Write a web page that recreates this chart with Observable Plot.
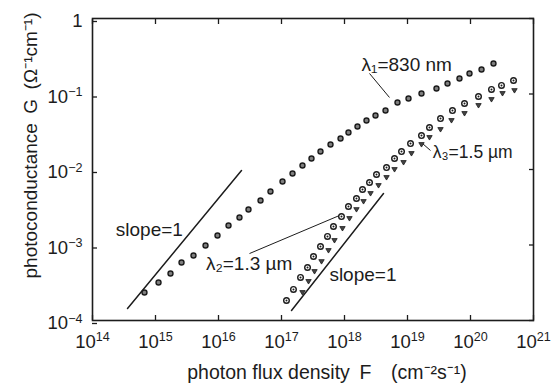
<!DOCTYPE html>
<html><head><meta charset="utf-8">
<script src="https://cdn.jsdelivr.net/npm/d3@7"></script>
<script src="https://cdn.jsdelivr.net/npm/@observablehq/plot@0.6"></script>
<style>
html,body{margin:0;padding:0;background:#fff;}
svg{display:block;}
</style></head><body><div id="chart"></div>
<script>
// exponents (log10)
const lambda1LogF = [14.825,15.048,15.238,15.413,15.603,15.794,15.984,16.159,16.333,16.476,16.667,16.825,17.016,17.175,17.333,17.476,17.619,17.778,17.937,18.063,18.206,18.349,18.492,18.651,18.841,19.016,19.222,19.460,19.635,19.825,19.984,20.175,20.365];
const lambda1LogG = [-3.629,-3.497,-3.377,-3.232,-3.139,-3.007,-2.874,-2.742,-2.636,-2.530,-2.411,-2.291,-2.159,-2.053,-1.947,-1.854,-1.762,-1.669,-1.589,-1.510,-1.430,-1.351,-1.285,-1.219,-1.113,-1.060,-0.993,-0.927,-0.861,-0.795,-0.728,-0.675,-0.596];
const lambda2LogF = [17.079,17.190,17.302,17.413,17.508,17.619,17.730,17.825,17.952,18.063,18.190,18.286,18.397,18.508,18.667,18.794,18.905,19.048,19.222,19.349,19.524,19.714,19.905,20.127,20.333,20.492,20.683];
const lambda2LogG = [-3.735,-3.589,-3.430,-3.298,-3.152,-3.020,-2.887,-2.755,-2.623,-2.490,-2.384,-2.265,-2.172,-2.066,-1.974,-1.854,-1.762,-1.656,-1.550,-1.444,-1.325,-1.219,-1.126,-1.033,-0.940,-0.887,-0.821];
const lambda3LogF = [17.333,17.429,17.524,17.635,17.746,17.841,17.968,18.079,18.190,18.302,18.413,18.540,18.667,18.794,18.937,19.063,19.222,19.349,19.524,19.698,19.905,20.127,20.333,20.508,20.698];
const lambda3LogG = [-3.629,-3.483,-3.351,-3.219,-3.073,-2.940,-2.781,-2.649,-2.530,-2.424,-2.318,-2.212,-2.106,-2.000,-1.907,-1.788,-1.669,-1.576,-1.470,-1.351,-1.258,-1.152,-1.073,-0.993,-0.954];
// slope = 1 guide lines (end points)
const slopeUpperLogF = [14.556, 16.365];
const slopeUpperLogG = [-3.841, -2.013];
const slopeLowerLogF = [17.159, 18.619];
const slopeLowerLogG = [-3.868, -2.318];
// tick exponents
const xTickExp = [14,15,16,17,18,19,20,21];
const yTickExp = [-4,-3,-2,-1,0];
// labels
const seriesLabels = ["λ₁=830 nm", "λ₂=1.3 µm", "λ₃=1.5 µm"];
const slopeLabel = "slope=1";
const xLabel = "photon flux density\u2002F\u2002\u2002(cm⁻²s⁻¹)";
const yLabel = "photoconductance\u2002G\u2002(Ω⁻¹cm⁻¹)";

const pts = (lf, lg) => lf.map((f, i) => ({F: 10 ** f, G: 10 ** lg[i]}));
const s1 = pts(lambda1LogF, lambda1LogG);
const s2 = pts(lambda2LogF, lambda2LogG);
const s3 = pts(lambda3LogF, lambda3LogG);
const slopeU = pts(slopeUpperLogF, slopeUpperLogG);
const slopeL = pts(slopeLowerLogF, slopeLowerLogG);
const xTicks = xTickExp.map(e => 10 ** e);
const yTicks = yTickExp.map(e => 10 ** e);

// annotation placement (log10 coordinates)
const labels = [
  {text: seriesLabels[0], lf: 18.27, lg: -0.61, size: 19},
  {text: seriesLabels[1], lf: 15.80, lg: -3.25, size: 19},
  {text: seriesLabels[2], lf: 19.40, lg: -1.775, size: 17.5},
  {text: slopeLabel, lf: 14.37, lg: -2.80, size: 19},
  {text: slopeLabel, lf: 17.76, lg: -3.40, size: 19}
].map(d => ({text: d.text, size: d.size, F: 10 ** d.lf, G: 10 ** d.lg}));
const leaders = [
  [18.397,-0.728,18.714,-1.046],
  [16.492,-3.113,17.921,-2.609],
  [19.238,-1.656,19.365,-1.748]
].map(a => ({F1: 10 ** a[0], G1: 10 ** a[1], F2: 10 ** a[2], G2: 10 ** a[3]}));

const triDown = {draw(ctx, size) {
  const r = Math.sqrt(size / Math.PI);
  ctx.moveTo(-r, -r * 0.7); ctx.lineTo(r, -r * 0.7); ctx.lineTo(0, r * 0.95); ctx.closePath();
}};

const ink = "#1c1c1c";
const font = "'Liberation Sans', Arial, Helvetica, sans-serif";

const chart = Plot.plot({
  width: 552, height: 385,
  marginLeft: 92, marginRight: 19, marginTop: 18, marginBottom: 65,
  style: {fontFamily: font, fontSize: "18px", color: ink, background: "#fff"},
  x: {type: "log", domain: [1e14, 1e21]},
  y: {type: "log", domain: [1e-4, 1]},
  marks: [
    Plot.frame({stroke: ink, strokeWidth: 1.6}),
    Plot.axisX(xTicks, {anchor: "bottom", tickSize: -5, tickPadding: 19, tickFormat: d => String(Math.round(Math.log10(d))), fontSize: 18.5, label: null, strokeWidth: 1.3}),
    Plot.axisX(xTicks, {anchor: "top", tickSize: -5, tickFormat: () => "", label: null, strokeWidth: 1.3}),
    Plot.axisY(yTicks, {anchor: "left", tickSize: -5, tickPadding: 15, dy: 3, tickFormat: d => String(Math.round(Math.log10(d))), fontSize: 18.5, label: null, strokeWidth: 1.3}),
    Plot.axisY(yTicks, {anchor: "right", tickSize: -5, tickFormat: () => "", label: null, strokeWidth: 1.3}),
    Plot.line(slopeU, {x: "F", y: "G", stroke: ink, strokeWidth: 1.5}),
    Plot.line(slopeL, {x: "F", y: "G", stroke: ink, strokeWidth: 1.5}),
    Plot.link(leaders, {x1: "F1", y1: "G1", x2: "F2", y2: "G2", stroke: ink, strokeWidth: 1}),
    Plot.dot(s1, {x: "F", y: "G", r: 2.5, fill: "#808080", stroke: ink, strokeWidth: 1.4}),
    Plot.dot(s2, {x: "F", y: "G", r: 2.8, fill: "#fff", stroke: ink, strokeWidth: 1.4}),
    Plot.dot(s2, {x: "F", y: "G", r: 1, fill: ink}),
    Plot.dot(s3, {x: "F", y: "G", symbol: triDown, r: 2.7, fill: "#444", stroke: ink, strokeWidth: 0.8}),
    Plot.text(labels, {x: "F", y: "G", text: "text", fontSize: "size", textAnchor: "start", lineAnchor: "middle", fill: ink}),
    Plot.text([xLabel], {frameAnchor: "bottom", dx: 14, dy: 52, text: d => d, textAnchor: "middle", lineAnchor: "middle", fontSize: 19.5, fill: ink}),
    Plot.text([yLabel], {frameAnchor: "top-left", dx: -62, dy: 127, rotate: -90, text: d => d, textAnchor: "middle", lineAnchor: "middle", fontSize: 19, fill: ink})
  ]
});

// turn exponent tick labels into 10 with a raised exponent
const ns = "http://www.w3.org/2000/svg";
chart.querySelectorAll('g[aria-label$="tick label"] text').forEach(t => {
  const e = t.textContent;
  if (e === "") return;
  t.textContent = "";
  if (e === "0") { t.textContent = "1"; return; }
  t.appendChild(document.createTextNode("10"));
  const ts = document.createElementNS(ns, "tspan");
  ts.setAttribute("dy", "-0.55em");
  ts.setAttribute("font-size", "0.68em");
  ts.textContent = e.replace("-", "−");
  t.appendChild(ts);
});
document.getElementById("chart").appendChild(chart);
</script>
</body></html>
